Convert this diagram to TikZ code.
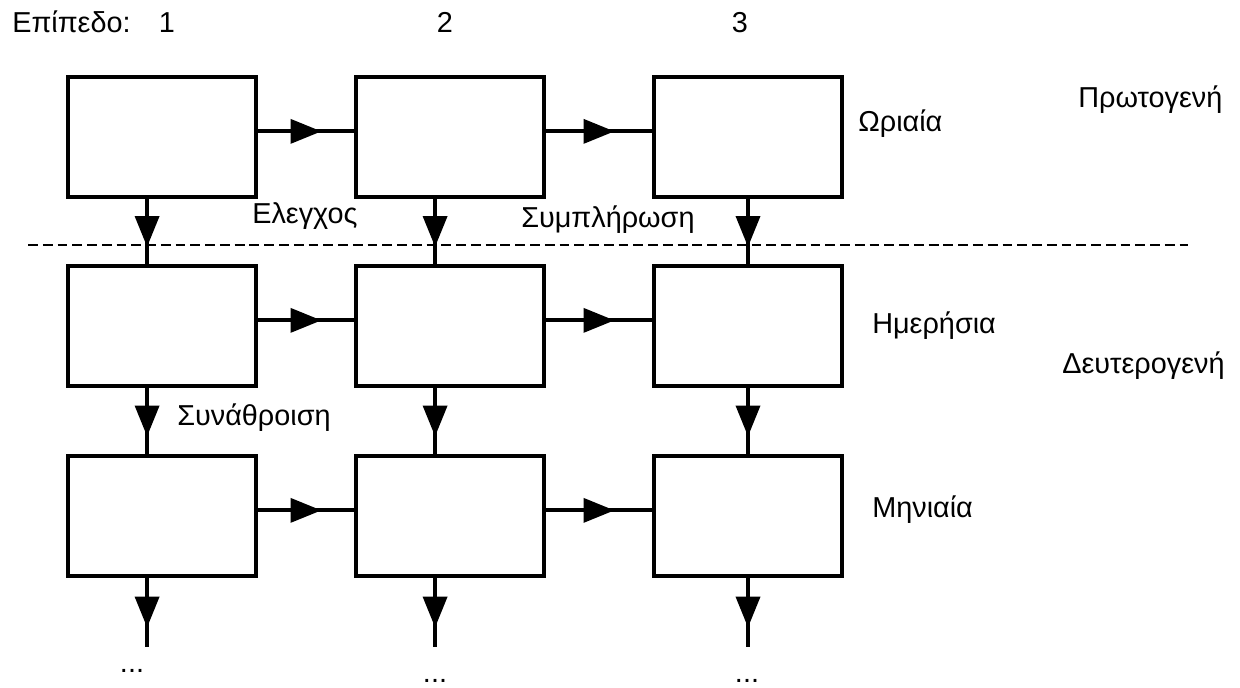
\documentclass[tikz,border=0pt]{standalone}
\usepackage{fontspec}
\setmainfont{Liberation Sans}
\usetikzlibrary{positioning, arrows.meta, decorations.markings}
\tikzstyle{sheet} = [x = 0.025cm, y = -0.025cm]
\tikzstyle{stageBox} = [draw, line width = 2.8pt, minimum width = 4.68cm, minimum height = 2.98cm, inner sep = 0pt]
\tikzstyle{flowLine} = [line width = 2.8pt, postaction = {decorate},
  decoration = {markings, mark = at position 0.5 with {\arrow[xshift = 11pt]{Triangle[length = 22pt, width = 17pt]}}}]
\tikzstyle{levelLine} = [line width = 1pt, dash pattern = on 7pt off 3.5pt]
\tikzstyle{labelText} = [font = \fontsize{20.5}{24}\selectfont, inner sep = 0pt]
\newcommand{\dx}{10.6pt}

\begin{document}
\begin{tikzpicture}[sheet]
  \useasboundingbox (0, 0) rectangle (1240, 688);

  % boxes
  \foreach \col/\xx in {1/162, 2/450, 3/748} {
    \foreach \row/\yy in {1/137, 2/326, 3/516} {
      \node [stageBox] (b\row\col) at (\xx, \yy) {};
    }
  }

  % level numbers
  \node [labelText, anchor = base west] (level) at (12, 33) {Επίπεδο:};
  \node [labelText, anchor = base] (level1) at (167, 33) {1};
  \node [labelText, anchor = base] (level2) at (445, 33) {2};
  \node [labelText, anchor = base] (level3) at (740, 33) {3};

  % horizontal flow
  \foreach \row in {1, 2, 3} {
    \draw [flowLine] ([yshift = 4pt] b\row1.east) -- ([yshift = 4pt] b\row2.west);
    \draw [flowLine] ([yshift = 4pt] b\row2.east) -- ([yshift = 4pt] b\row3.west);
  }

  % vertical flow
  \foreach \col/\sh in {1/-\dx, 2/-\dx, 3/0pt} {
    \draw [flowLine] ([xshift = \sh] b1\col.south) -- ([xshift = \sh] b2\col.north);
    \draw [flowLine] ([xshift = \sh] b2\col.south) -- ([xshift = \sh] b3\col.north);
    \path ([xshift = \sh] b3\col.south) ++(0, 69) coordinate (end\col);
    \draw [flowLine] ([xshift = \sh] b3\col.south) -- (end\col);
  }

  \node [labelText] (dots1) at (132, 671) {...};
  \node [labelText] (dots2) at (435, 681) {...};
  \node [labelText] (dots3) at (747, 681) {...};

  \draw [levelLine] (28, 245) -- (1188, 245);

  % labels
  \node [labelText, anchor = base west] (check) at (252, 224) {Ελεγχος};
  \node [labelText, anchor = base west] (fill) at (521, 228) {Συμπλήρωση};
  \node [labelText, anchor = base west] (sum) at (177, 425) {Συνάθροιση};
  \node [labelText, anchor = base west] (hourly) at (858, 132) {Ωριαία};
  \node [labelText, anchor = base west] (primary) at (1078, 108) {Πρωτογενή};
  \node [labelText, anchor = base west] (daily) at (872, 333) {Ημερήσια};
  \node [labelText, anchor = base west] (secondary) at (1062, 373) {Δευτερογενή};
  \node [labelText, anchor = base west] (monthly) at (872, 517) {Μηνιαία};
\end{tikzpicture}
\end{document}
